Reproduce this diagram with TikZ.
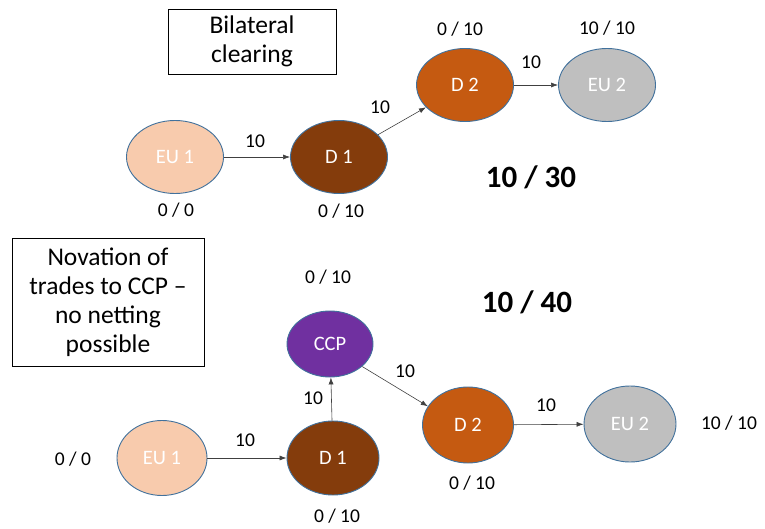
\documentclass[tikz,border=0pt]{standalone}
\usepackage{fontspec}
\setmainfont{Carlito}
\usepackage{xcolor}
\usetikzlibrary{shapes.geometric,arrows.meta}

\definecolor{peach}{HTML}{F8CBAD}
\definecolor{darkbrown}{HTML}{843C0C}
\definecolor{rust}{HTML}{C55A11}
\definecolor{lightgray}{HTML}{BFBFBF}
\definecolor{ccppurple}{HTML}{7030A0}
\definecolor{edgeblue}{HTML}{41719C}

\tikzset{
  party/.style={ellipse, draw=edgeblue, line width=0.9pt, text=white, inner sep=0pt,
    minimum width=97pt, minimum height=73pt, font=\fontsize{20.5}{22}\selectfont},
  flow/.style={-{Latex[length=7pt,width=5pt]}, draw=black!75, line width=0.6pt},
  amount/.style={font=\fontsize{19.5}{22}\selectfont},
  titlebox/.style={draw, line width=0.8pt, align=center, inner sep=0pt,
    font=\fontsize{25.5}{29}\selectfont},
  total/.style={font=\bfseries\fontsize{31}{34}\selectfont}
}

\begin{document}
\begin{tikzpicture}[x=1pt,y=-1pt]
        \useasboundingbox (0,0) rectangle (765,529);
        % bilateral clearing
        \node[titlebox, minimum width=168pt, minimum height=65pt] (bil) at (252,41.5) {Bilateral\\clearing};
        \node[party, fill=peach] (eua) at (175,157) {EU 1};
        \node[party, fill=darkbrown] (da) at (339,157) {D 1};
        \node[party, fill=rust] (db) at (465,85) {D 2};
        \node[party, fill=lightgray] (eub) at (607,85) {EU 2};
        \draw[flow] (eua) -- (da);
        \draw[flow] (da) -- (db);
        \draw[flow] (db) -- (eub);
        \node[amount] (qa) at (255,141) {10};
        \node[amount] (qb) at (380,107) {10};
        \node[amount] (qc) at (531,62) {10};
        \node[amount] (pa) at (176,210) {0 / 0};
        \node[amount] (pb) at (341,211) {0 / 10};
        \node[amount] (pc) at (460,29) {0 / 10};
        \node[amount] (pd) at (607,28) {10 / 10};
        \node[total] (tota) at (531,177) {10 / 30};

        % novation to CCP
        \node[titlebox, minimum width=192pt, minimum height=128pt] (nov) at (108,302)
            {Novation of\\trades to CCP --\\no netting\\possible};
        \node[party, fill=peach, minimum width=90pt, minimum height=75pt] (euc) at (162,458) {EU 1};
        \node[party, fill=darkbrown, minimum width=92pt, minimum height=74pt] (dc) at (333,458) {D 1};
        \node[party, fill=ccppurple, minimum width=86pt, minimum height=66pt] (ccp) at (330,344) {CCP};
        \node[party, fill=rust, minimum width=91pt, minimum height=76pt] (dd) at (468,425) {D 2};
        \node[party, fill=lightgray, minimum width=92pt, minimum height=76pt] (eud) at (630,424) {EU 2};
        \draw[flow] (euc) -- (dc);
        \draw[flow] (dc) -- (ccp);
        \draw[flow] (ccp.-35) -- (dd.155);
        \draw[flow] (dd) -- (eud);
        \node[amount] (qd) at (245,440) {10};
        \node[amount] (qe) at (313,398) {10};
        \node[amount] (qf) at (405,371) {10};
        \node[amount] (qg) at (546,405) {10};
        \node[amount] (pe) at (73,459) {0 / 0};
        \node[amount] (pf) at (337,516) {0 / 10};
        \node[amount] (pg) at (328,277) {0 / 10};
        \node[amount] (ph) at (472,483) {0 / 10};
        \node[amount] (pi) at (729,423) {10 / 10};
        \node[total] (totb) at (527,302) {10 / 40};
    \end{tikzpicture}
\end{document}
